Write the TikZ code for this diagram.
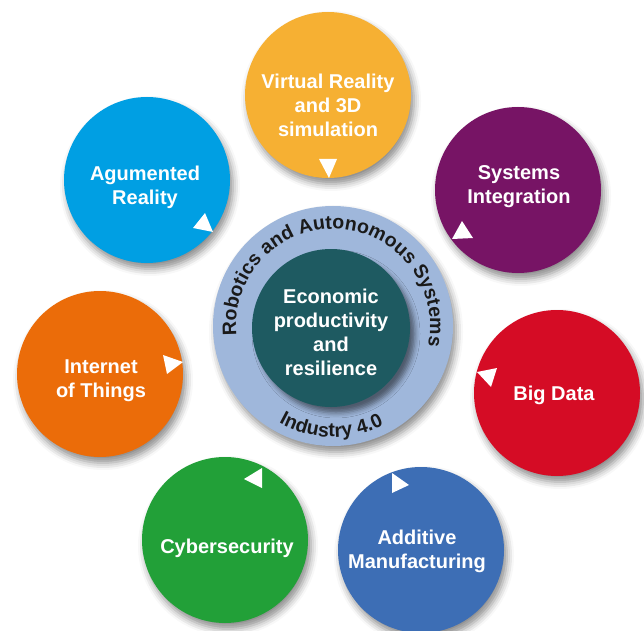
\documentclass[tikz,border=0pt]{standalone}
\usepackage{fontspec}
\setmainfont{Liberation Sans}
\usetikzlibrary{shadows.blur,decorations.text}

\definecolor{arblue}{HTML}{009FE3}
\definecolor{vryellow}{HTML}{F6B033}
\definecolor{sipurple}{HTML}{771465}
\definecolor{iotorange}{HTML}{EB6C09}
\definecolor{cybgreen}{HTML}{22A038}
\definecolor{bdred}{HTML}{D50C25}
\definecolor{amblue}{HTML}{3D6EB5}
\definecolor{ringblue}{HTML}{9FB7DB}
\definecolor{coreteal}{HTML}{1E5A61}
\definecolor{ringink}{HTML}{1A1A1A}

\newcommand\ringfont{\bfseries\fontsize{19.5}{23}\selectfont\color{ringink}}

\begin{document}
\begin{tikzpicture}[x=1pt,y=1pt,
  softshadow/.style={blur shadow={shadow xshift=3pt, shadow yshift=-6pt,
      shadow blur radius=7pt, shadow opacity=45}},
  topic/.style={circle, minimum size=166pt, inner sep=0pt, fill=#1, softshadow},
  topictext/.style={text=white, font=\bfseries\fontsize{20}{24}\selectfont,
      align=center, inner sep=0pt},
  pointer/.style={fill=white}]
\useasboundingbox (0,0) rectangle (644,630);

% central hub
\node[circle, minimum size=240pt, inner sep=0pt, fill=ringblue, softshadow] (ring) at (333,304) {};
\node[circle, minimum size=158pt, inner sep=0pt, fill=coreteal,
      blur shadow={shadow xshift=5pt, shadow yshift=-6pt, shadow blur radius=5pt, shadow opacity=50}]
      (core) at (331,302) {};
\node[topictext] (coretext) at (331,298) {Economic\\productivity\\and\\resilience};

% lettering around the ring
\path[decorate, decoration={text along path, text align=center,
      text={|\ringfont|Robotics and Autonomous Systems}}]
  ([shift={(188:97pt)}]ring.center) arc[start angle=188, end angle=-14, radius=97pt];
\path[decorate, decoration={text along path, text align=center,
      text={|\ringfont|Industry 4.0}}]
  ([shift={(-151:111pt)}]ring.center) arc[start angle=-151, end angle=-31, radius=111pt];

% surrounding topics
\node[topic=arblue]    (ar)  at (147,450) {};
\node[topic=vryellow]  (vr)  at (328,535) {};
\node[topic=sipurple]  (si)  at (518,440) {};
\node[topic=iotorange] (iot) at (100,256) {};
\node[topic=cybgreen]  (cyb) at (225,90)  {};
\node[topic=bdred]     (bd)  at (557,237) {};
\node[topic=amblue]    (am)  at (421,80)  {};

\node[topictext] (artext)  at (145,443)   {Agumented\\Reality};
\node[topictext] (vrtext)  at (328,525)   {Virtual Reality\\and 3D\\simulation};
\node[topictext] (sitext)  at (519,443)   {Systems\\Integration};
\node[topictext] (iottext) at (101,249)   {Internet\\of Things};
\node[topictext] (cybtext) at (227,82)    {Cybersecurity};
\node[topictext] (bdtext)  at (554,235)   {Big Data};
\node[topictext] (amtext)  at (417,79)    {Additive\\Manufacturing};

% direction markers
\fill[pointer] (205,417) -- (193,402) -- (213,398) -- cycle;
\fill[pointer] (319,471) -- (337,471) -- (329,452) -- cycle;
\fill[pointer] (462,409) -- (452,391) -- (473,392) -- cycle;
\fill[pointer] (477,258) -- (497,262) -- (491,243) -- cycle;
\fill[pointer] (163,275) -- (183,268) -- (167,256) -- cycle;
\fill[pointer] (262,162) -- (244,151) -- (262,142) -- cycle;
\fill[pointer] (392,157) -- (409,145) -- (392,137) -- cycle;
\end{tikzpicture}
\end{document}
